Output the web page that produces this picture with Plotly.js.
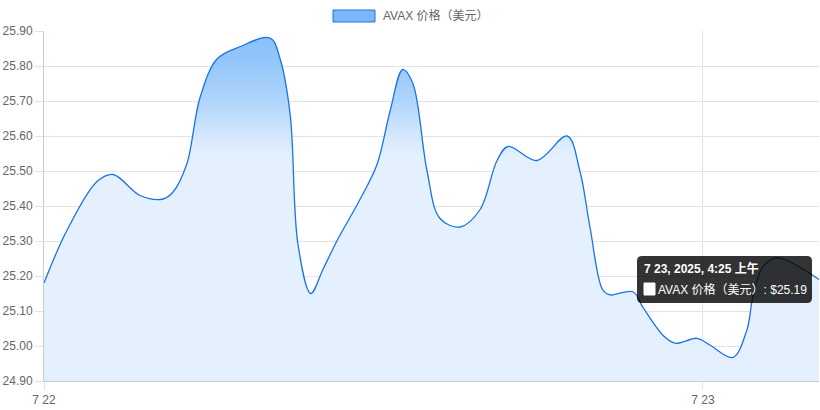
<!DOCTYPE html>
<html>
<head>
<meta charset="utf-8">
<script src="https://cdn.plot.ly/plotly-3.0.1.min.js"></script>
<style>
html,body{margin:0;padding:0;background:#fff;}
#chart{width:820px;height:410px;}
</style>
</head>
<body>
<div id="chart"></div>
<script>
// ---- data ----
const seriesName = 'AVAX 价格（美元）';
const times = [
  '2025-07-22 00:00','2025-07-22 00:50','2025-07-22 01:56','2025-07-22 02:31','2025-07-22 03:30',
  '2025-07-22 04:20','2025-07-22 04:42','2025-07-22 05:12','2025-07-22 05:41','2025-07-22 06:18',
  '2025-07-22 07:08','2025-07-22 08:14','2025-07-22 08:36','2025-07-22 08:58',
  '2025-07-22 09:15','2025-07-22 09:43','2025-07-22 10:10','2025-07-22 10:40','2025-07-22 11:31',
  '2025-07-22 12:08','2025-07-22 12:36','2025-07-22 13:04','2025-07-22 13:26','2025-07-22 13:57',
  '2025-07-22 14:25','2025-07-22 15:09','2025-07-22 15:53','2025-07-22 16:30','2025-07-22 16:54',
  '2025-07-22 17:57','2025-07-22 19:03','2025-07-22 19:31','2025-07-22 19:53','2025-07-22 20:21',
  '2025-07-22 20:37','2025-07-22 21:27','2025-07-22 21:49','2025-07-22 22:33','2025-07-22 22:59',
  '2025-07-22 23:47','2025-07-23 00:15','2025-07-23 01:05','2025-07-23 01:36','2025-07-23 01:49',
  '2025-07-23 02:11','2025-07-23 02:41','2025-07-23 04:13:30'
];
const prices = [
  25.18, 25.33, 25.47, 25.49, 25.43,
  25.42, 25.44, 25.52, 25.71, 25.82,
  25.855, 25.88, 25.82, 25.66,
  25.29, 25.15, 25.22, 25.30, 25.42,
  25.52, 25.67, 25.79, 25.75, 25.50,
  25.365, 25.34, 25.39, 25.53, 25.57,
  25.53, 25.60, 25.50, 25.34, 25.16,
  25.146, 25.155, 25.11, 25.03, 25.008,
  25.022, 25.003, 24.967, 25.046, 25.14,
  25.227, 25.252, 25.19
];
const xTickVals = ['2025-07-22 00:00', '2025-07-23 00:00'];
const xTickText = ['7 22', '7 23'];
const tooltipTitle = '7 23, 2025, 4:25 上午';
const tooltipBody = 'AVAX 价格（美元）: $25.19';

// ---- chart ----
const FONT = 'Liberation Sans, Arial, Noto Sans CJK SC, sans-serif';
const trace = {
  x: times, y: prices, type: 'scatter', mode: 'lines', name: seriesName,
  line: {color: 'rgb(26,115,232)', width: 1.3, shape: 'spline', smoothing: 1.0},
  fill: 'tozeroy',
  fillgradient: {
    type: 'vertical', start: 24.90, stop: 25.90,
    colorscale: [
      [0, 'rgb(228,240,253)'], [0.64, 'rgb(228,240,253)'], [0.69, 'rgb(216,233,253)'],
      [0.80, 'rgb(176,213,251)'], [0.92, 'rgb(146,197,250)'], [1, 'rgb(136,191,250)']
    ]
  },
  hoverinfo: 'skip', showlegend: false
};

// helpers: pixel -> paper
const L = 44, R = 819, T = 31, B = 381;
const px = v => (v - L) / (R - L);
const py = v => (B - v) / (B - T);

function roundRect(x0, y0, x1, y1, r) {
  const rx = r / (R - L), ry = r / (B - T);
  const X0 = px(x0), X1 = px(x1), Yt = py(y0), Yb = py(y1);
  return `M${X0 + rx},${Yt} L${X1 - rx},${Yt} Q${X1},${Yt} ${X1},${Yt - ry} ` +
    `L${X1},${Yb + ry} Q${X1},${Yb} ${X1 - rx},${Yb} L${X0 + rx},${Yb} Q${X0},${Yb} ${X0},${Yb + ry} ` +
    `L${X0},${Yt - ry} Q${X0},${Yt} ${X0 + rx},${Yt} Z`;
}

const layout = {
  width: 820, height: 410,
  margin: {l: L, r: 820 - R, t: T, b: 410 - B},
  paper_bgcolor: '#fff', plot_bgcolor: '#fff',
  font: {family: FONT, size: 12, color: '#666'},
  showlegend: false,
  xaxis: {
    type: 'date', range: ['2025-07-22 00:00', '2025-07-23 04:13:30'],
    tickmode: 'array', tickvals: xTickVals, ticktext: xTickText,
    showgrid: true, gridcolor: '#e3e3e3', gridwidth: 1,
    showline: true, linecolor: '#c8ccd2', linewidth: 1,
    ticks: 'outside', ticklen: 8, tickcolor: '#e3e3e3',
    tickfont: {family: FONT, size: 12, color: '#666'}, zeroline: false, fixedrange: true
  },
  yaxis: {
    range: [24.90, 25.90], dtick: 0.1, tick0: 24.90, tickformat: '.2f',
    showgrid: true, gridcolor: '#e3e3e3', gridwidth: 1,
    showline: true, linecolor: '#c8ccd2', linewidth: 1,
    ticks: 'outside', ticklen: 8, tickcolor: '#e3e3e3',
    tickfont: {family: FONT, size: 12, color: '#666'}, zeroline: false, fixedrange: true
  },
  shapes: [
    // legend swatch
    {type: 'rect', xref: 'paper', yref: 'paper', x0: px(333), x1: px(375), y0: py(10), y1: py(22),
     fillcolor: 'rgb(125,183,250)', line: {color: 'rgb(26,115,232)', width: 1}},
    // tooltip box
    {type: 'path', xref: 'paper', yref: 'paper', path: roundRect(637, 256, 812, 303, 5),
     fillcolor: 'rgba(0,0,0,0.8)', line: {width: 0}, layer: 'above'},
    // tooltip colour square
    {type: 'rect', xref: 'paper', yref: 'paper', x0: px(644), x1: px(655), y0: py(283), y1: py(295),
     fillcolor: '#ffffff', line: {color: '#ffffff', width: 1}, layer: 'above'}
  ],
  annotations: [
    {xref: 'paper', yref: 'paper', x: px(381), y: py(16), xanchor: 'left', yanchor: 'middle',
     text: seriesName, showarrow: false, font: {family: FONT, size: 12, color: '#666'}},
    {xref: 'paper', yref: 'paper', x: px(642), y: py(268), xanchor: 'left', yanchor: 'middle',
     text: '<b>' + tooltipTitle + '</b>', showarrow: false, font: {family: FONT, size: 12, color: '#fff'}},
    {xref: 'paper', yref: 'paper', x: px(656), y: py(289), xanchor: 'left', yanchor: 'middle',
     text: tooltipBody, showarrow: false, font: {family: FONT, size: 12, color: '#fff'}}
  ]
};

Plotly.newPlot('chart', [trace], layout, {displayModeBar: false, staticPlot: true});
</script>
</body>
</html>
